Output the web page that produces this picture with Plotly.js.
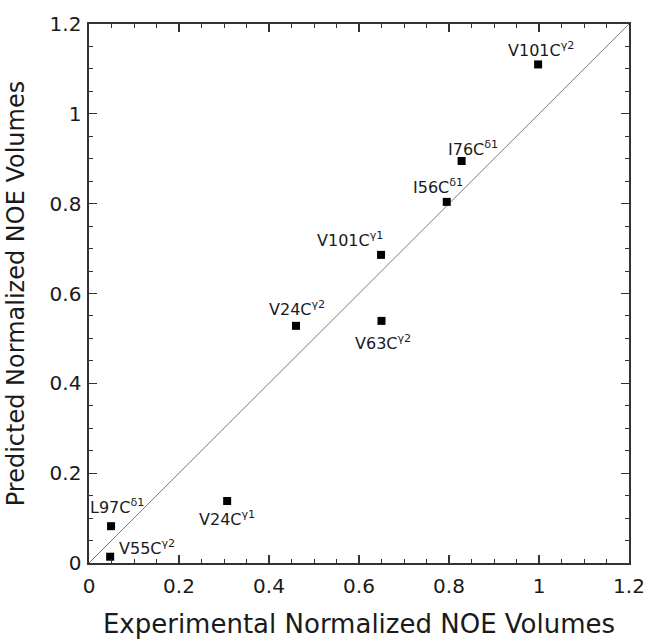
<!DOCTYPE html>
<html>
<head>
<meta charset="utf-8">
<script src="https://cdn.plot.ly/plotly-3.0.1.min.js"></script>
<style>
  html, body { margin: 0; padding: 0; background: #fff; }
  #chart { width: 652px; height: 641px; }
</style>
</head>
<body>
<div id="chart"></div>
<script>
// Methyl NOE volumes: experimental vs predicted (normalized)
const methylGroups = ["V101C<sup>γ2</sup>", "I76C<sup>δ1</sup>", "I56C<sup>δ1</sup>",
  "V101C<sup>γ1</sup>", "V24C<sup>γ2</sup>", "V63C<sup>γ2</sup>",
  "V24C<sup>γ1</sup>", "L97C<sup>δ1</sup>", "V55C<sup>γ2</sup>"];
const experimental = [0.998, 0.828, 0.795, 0.649, 0.460, 0.650, 0.307, 0.049, 0.047];
const predicted    = [1.110, 0.895, 0.804, 0.686, 0.528, 0.539, 0.138, 0.082, 0.014];
const diagonal = [0, 1.2];
const axisRange = [0, 1.2];

// pixel offsets of each label from its marker
const labelShift = [[3, -15], [11, -13], [-9, -15], [-31, -15], [1, -17], [1, 22], [0, 17], [6, -20], [37, -9]];

const FONT = "DejaVu Sans, Arial, sans-serif";
const INK = "#1a1a1a";

const traces = [
  {
    x: diagonal, y: diagonal, mode: "lines", type: "scatter",
    line: { color: "#7a7a7a", width: 1 }, hoverinfo: "skip", showlegend: false
  },
  {
    x: experimental, y: predicted, mode: "markers", type: "scatter",
    marker: { symbol: "square", size: 8, color: "#000" },
    text: methylGroups, showlegend: false
  },
  // empty trace that carries the top/right tick axes
  { x: [], y: [], xaxis: "x2", yaxis: "y2", type: "scatter", mode: "markers", showlegend: false }
];

const annotations = methylGroups.map((t, i) => ({
  x: experimental[i], y: predicted[i], xref: "x", yref: "y",
  text: t, showarrow: false,
  xshift: labelShift[i][0], yshift: -labelShift[i][1],
  font: { family: FONT, size: 16, color: INK }
}));

function tickAxis(extra) {
  return Object.assign({
    range: axisRange, dtick: 0.2, tick0: 0,
    ticks: "inside", ticklen: 8, tickwidth: 1.2, tickcolor: "#333",
    showgrid: false, zeroline: false,
    tickfont: { family: FONT, size: 20, color: INK },
    minor: { dtick: 0.05, ticks: "inside", ticklen: 4, tickwidth: 1, tickcolor: "#333", showgrid: false }
  }, extra);
}

const layout = {
  width: 652, height: 641,
  margin: { l: 89, r: 23, t: 24, b: 78 },
  paper_bgcolor: "#fff", plot_bgcolor: "#fff",
  xaxis: tickAxis({
    showline: true, linecolor: "#333", linewidth: 1.6, mirror: true,
    ticklabelstandoff: 4,
    title: { text: "Experimental Normalized NOE Volumes", font: { family: FONT, size: 26, color: INK }, standoff: 18 }
  }),
  yaxis: tickAxis({
    showline: true, linecolor: "#333", linewidth: 1.6, mirror: true,
    ticklabelstandoff: 2,
    title: { text: "Predicted Normalized NOE Volumes", font: { family: FONT, size: 24, color: INK }, standoff: 18 }
  }),
  xaxis2: tickAxis({ overlaying: "x", side: "top", showticklabels: false, showline: false }),
  yaxis2: tickAxis({ overlaying: "y", side: "right", showticklabels: false, showline: false }),
  annotations: annotations,
  showlegend: false
};

Plotly.newPlot("chart", traces, layout, { staticPlot: true, displayModeBar: false });
</script>
</body>
</html>
